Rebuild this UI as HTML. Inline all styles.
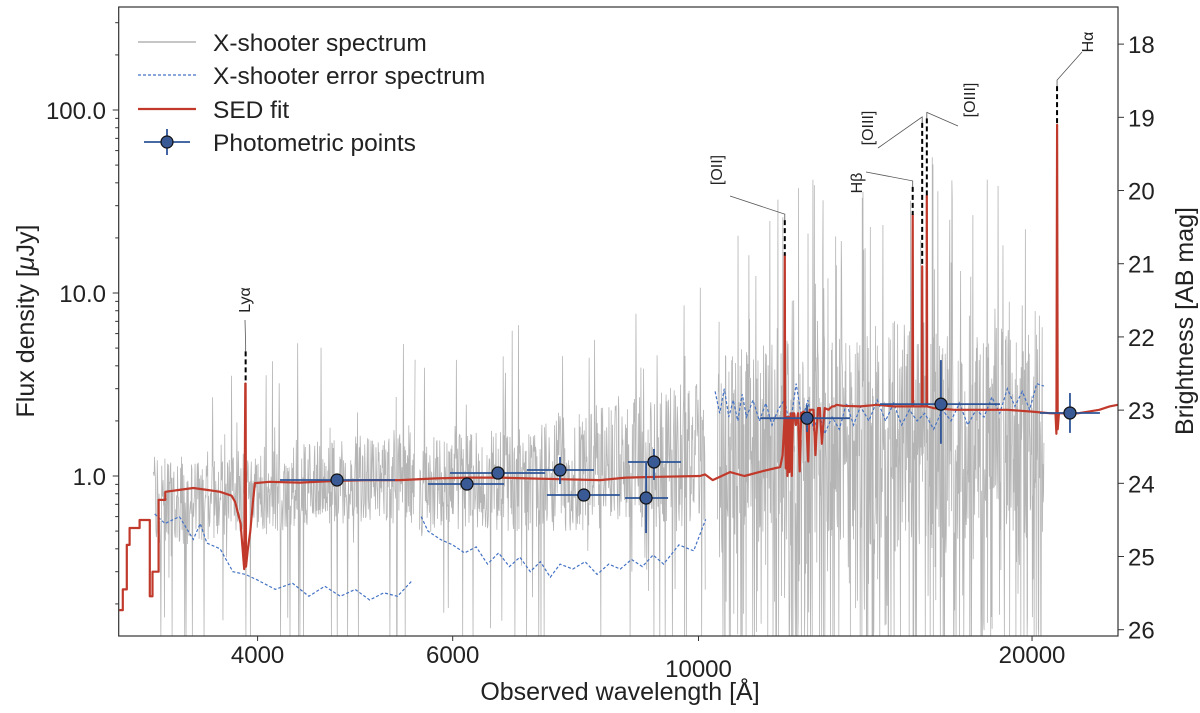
<!DOCTYPE html>
<html><head><meta charset="utf-8">
<style>
html,body{margin:0;padding:0;background:#fff;overflow:hidden;width:1200px;height:713px;}
svg{display:block;font-family:"Liberation Sans",sans-serif;}
</style></head>
<body>
<svg id="chart" width="1200" height="713" viewBox="0 0 1200 713" xmlns="http://www.w3.org/2000/svg">
<g id="plot"></g>
</svg>
<script>
// ---- data ----
const xTicks = [4000, 6000, 10000, 20000];
const xTickLabels = ["4000", "6000", "10000", "20000"];
const yTicks = [1, 10, 100];
const yTickLabels = ["1.0", "10.0", "100.0"];
const magTicks = [18, 19, 20, 21, 22, 23, 24, 25, 26];

const sedLam = [3000,3023,3023,3048,3048,3066,3066,3130,3130,3197,3197,3215,3215,3256,3256,3302,3302,3400,3500,3600,3700,3790,3818,3861,3890,3899,3902,3905,3920,3940,3960,3978,4100,4368,4700,5000,5378,5800,6200,6620,7000,7500,8150,8600,9200,10031,10135,10300,10676,11000,11400,11850,11910,11955,11964,11973,11990,12010,12030,12060,12080,12110,12140,12170,12200,12240,12300,12340,12380,12440,12500,12560,12600,12650,12700,12750,12820,12870,12920,13000,13100,13200,13260,13320,13500,14000,14500,15000,15400,15595,15607,15619,15700,15905,15918,15931,16000,16060,16072,16084,16300,17000,18000,19000,20000,20800,21000,21040,21067,21094,21150,21300,21600,22000,22500,23000,23500,23900];
const sedFlux = [0.185,0.185,0.24,0.24,0.42,0.42,0.52,0.52,0.575,0.575,0.22,0.22,0.3,0.3,0.74,0.74,0.82,0.84,0.86,0.84,0.82,0.78,0.72,0.55,0.31,3.2,3.2,0.32,0.4,0.5,0.7,0.915,0.93,0.92,0.94,0.95,0.95,0.97,0.98,0.98,0.97,0.96,0.95,0.98,0.99,1.0,1.02,0.95,1.05,1.0,1.06,1.12,1.3,2.0,16,2.0,1.1,2.1,1.0,2.1,1.05,2.2,1.0,2.2,2.2,1.9,2.2,1.06,2.2,2.25,2.2,1.2,2.3,2.3,2.3,1.3,2.35,2.35,1.5,2.35,2.3,2.4,2.4,2.45,2.42,2.4,2.45,2.4,2.4,2.4,26.7,2.4,2.4,2.4,14,2.4,2.4,2.4,34,2.4,2.35,2.3,2.3,2.3,2.25,2.2,2.2,1.7,83,1.8,2.2,2.2,2.2,2.2,2.25,2.3,2.4,2.45];

const errLam = [
 [3230,3300,3400,3500,3550,3600,3700,3800,3900,4000,4150,4300,4450,4600,4750,4900,5050,5200,5350,5520],
 [5620,5700,5850,6000,6150,6300,6450,6600,6750,6900,7050,7200,7350,7500,7700,7900,8100,8300,8500,8700,8900,9100,9300,9600,9900,10150],
 [10350,10450,10550,10650,10750,10850,10950,11050,11200,11350,11500,11650,11800,11950,12100,12250,12400,12550,12700,12850,13000,13200,13400,13600,13800,14000,14250,14500,14750,15000,15250,15500,15750,16000,16300,16600,16900,17200,17500,17800,18100,18400,18700,19000,19300,19600,19900,20200,20500]
];
const errFlux = [
 [0.62,0.55,0.6,0.45,0.55,0.43,0.4,0.3,0.29,0.27,0.24,0.26,0.22,0.25,0.22,0.24,0.21,0.23,0.22,0.27],
 [0.6,0.5,0.45,0.42,0.38,0.41,0.33,0.38,0.32,0.36,0.3,0.34,0.28,0.33,0.31,0.34,0.29,0.33,0.31,0.35,0.32,0.37,0.33,0.42,0.39,0.58],
 [2.9,2.2,3.0,2.1,2.6,2.0,2.8,2.1,2.6,2.0,2.5,1.9,2.3,2.6,1.9,3.2,2.0,2.6,1.8,2.2,1.7,2.1,1.8,2.5,1.9,2.4,2.0,2.6,2.0,2.5,1.9,2.3,2.0,2.2,1.8,2.3,2.0,2.5,1.9,2.3,2.1,2.7,2.2,3.0,2.4,2.9,2.3,3.2,3.1]
];

const specLam = [
 [3220,3400,3700,3900,4200,4600,5000,5300,5550],
 [5600,6000,6500,7000,7500,8000,8500,9000,9600,10150],
 [10400,11000,12000,13000,14000,15000,16000,17000,18000,19000,20000,20500]
];
const specLo = [
 [0.4,0.42,0.42,0.45,0.5,0.55,0.55,0.55,0.55],
 [0.45,0.5,0.5,0.5,0.5,0.5,0.55,0.5,0.5,0.55],
 [0.35,0.35,0.4,0.4,0.4,0.4,0.4,0.4,0.4,0.45,0.45,0.45]
];
const specHi = [
 [1.3,1.3,1.2,1.4,1.5,1.6,1.7,1.8,2.0],
 [1.6,1.7,1.8,2.0,2.3,2.5,2.8,3.0,3.2,3.5],
 [4.5,5,5.5,6,6.5,7,7.5,7,6.5,6.5,6,6]
];

const photLam = [4718,6181,6592,7499,7880,8968,9116,12530,16550,21640];
const photFlux = [0.951,0.904,1.038,1.078,0.787,0.758,1.193,2.07,2.47,2.21];
const photLamLo = [4190,5699,5966,7001,7298,8584,8636,11370,14580,20330];
const photLamHi = [5322,6676,7270,8048,8492,9387,9643,13700,18710,23030];
const photFluxLo = [0.92,0.87,1.0,0.904,0.74,0.488,0.951,1.74,1.5,1.72];
const photFluxHi = [0.98,0.94,1.08,1.27,0.84,1.178,1.405,2.44,4.3,2.84];

const lineNames = ["Ly\u03b1","[OII]","H\u03b2","[OIII]","[OIII]","H\u03b1"];
const lineLam = [3902,11964,15607,15918,16072,21067];
const lineTop = [4.8,25,38,85,90,135];
const linePeak = [3.2,16,26.7,14,34,83];

// ---- axes ----
const L=118.7,R=1118,T=7,B=636;
function X(l){return 698.5+1108*Math.log10(l/10000);}
function Y(f){return 476-183*Math.log10(f);}
function Ymag(m){return Y(Math.pow(10,(23.9-m)/2.5));}
const NS="http://www.w3.org/2000/svg";
const svg=document.getElementById('chart');
function mk(tag,attrs,parent){const e=document.createElementNS(NS,tag);for(const k in attrs)e.setAttribute(k,attrs[k]);(parent||svg).appendChild(e);return e;}
const clipDef=mk('defs',{});
const cp=mk('clipPath',{id:'clip'},clipDef);mk('rect',{x:L,y:T,width:R-L,height:B-T},cp);
const g=mk('g',{'clip-path':'url(#clip)'});



function hash(i){const s=Math.sin(i*127.1+311.7)*43758.5453;return s-Math.floor(s);}
function interp(xs,ys,x){for(let i=0;i<xs.length-1;i++){if(x<=xs[i+1]){const t=(x-xs[i])/(xs[i+1]-xs[i]);return Math.exp(Math.log(ys[i])*(1-t)+Math.log(ys[i+1])*t);}}return ys[ys.length-1];}

// gray spectrum (texture inside data envelope)
let hc=0;
for(let a=0;a<specLam.length;a++){
  const x0=X(specLam[a][0]),x1=X(specLam[a][specLam[a].length-1]);
  let pts=[];
  const step=a==2?0.35:0.45;
  const pDown=a==2?0.16:0.05, pUp=a==2?0.06:0.03;
  for(let x=x0;x<=x1;x+=step){
    const lam=10000*Math.pow(10,(x-698.5)/1108);
    const lo=Math.log10(interp(specLam[a],specLo[a],lam)),hi=Math.log10(interp(specLam[a],specHi[a],lam));
    const h=hash(hc++);const h2=hash(hc++);
    let v;
    const mid=(lo+hi)/2,half=(hi-lo)/2;
    if(h2>1-pUp) v=hi+(a==2?0.9:0.6)*hash(hc++);
    else if(h2<pDown) v=lo-1.2*hash(hc++);
    else v=mid+half*(2*h-1);
    let yy=476-183*v;
    if(yy>B)yy=B; if(yy<T)yy=T;
    pts.push(x.toFixed(2)+','+yy.toFixed(1));
  }
  const p=mk('polyline',{points:pts.join(' '),fill:'none',stroke:'#b5b5b5','stroke-width':0.8},g);
  
  
}
// error spectrum
for(let a=0;a<errLam.length;a++){
  const pts=errLam[a].map((l,i)=>X(l).toFixed(1)+','+Y(errFlux[a][i]).toFixed(1));
  const p=mk('polyline',{points:pts.join(' '),fill:'none',stroke:'#4472c4','stroke-width':1.2,'stroke-dasharray':'3,2'},g);
  
  
}
// SED
{
  const pts=sedLam.map((l,i)=>X(l).toFixed(1)+','+Y(sedFlux[i]).toFixed(1));
  const p=mk('polyline',{points:pts.join(' '),fill:'none',stroke:'#c0392b','stroke-width':2.2,'stroke-linejoin':'round'},g);
  
  
}
// photometric points
for(let i=0;i<photLam.length;i++){
  const x=X(photLam[i]),y=Y(photFlux[i]);
  const e1=mk('line',{x1:X(photLamLo[i]),x2:X(photLamHi[i]),y1:y,y2:y,stroke:'#2e5597','stroke-width':1.8},g);
  
  
  const e2=mk('line',{x1:x,x2:x,y1:Y(photFluxLo[i]),y2:Y(photFluxHi[i]),stroke:'#2e5597','stroke-width':1.8},g);
  
  
  const c=mk('circle',{cx:x,cy:y,r:6,fill:'#3a5a96',stroke:'#111','stroke-width':1.2},g);
  
  
}
// emission line markers
const labelPos=[[245,300],[717,170],[857,183],[868,128],[970,100],[1088,42]];
const elbow=[[245,320],[730,196],[866,172],[878,148],[958,126],[1082,52]];
for(let i=0;i<lineLam.length;i++){
  const x=X(lineLam[i]),yt=Y(lineTop[i]),yp=Y(linePeak[i]);
  const d=mk('line',{x1:x,x2:x,y1:yt,y2:yp,stroke:'#000','stroke-width':2,'stroke-dasharray':'5,3'});
  
  
  const [ex,ey]=elbow[i];
  const lead=mk('polyline',{points:`${x},${yt} ${x},${yt-6} ${ex},${ey}`,fill:'none',stroke:'#555','stroke-width':0.8});
  
  
  const [lx,ly]=labelPos[i];
  const t=mk('text',{x:0,y:0,transform:`translate(${lx+5},${ly}) rotate(-90)`,'font-size':16,fill:'#222','text-anchor':'middle'});
  t.textContent=lineNames[i];
  
  
}
// frame
const fr=mk('rect',{x:L,y:T,width:R-L,height:B-T,fill:'none',stroke:'#333','stroke-width':1.2});


// x ticks
xTicks.forEach((v,i)=>{
  const x=X(v);
  const tk=mk('line',{x1:x,x2:x,y1:B,y2:B+5,stroke:'#333','stroke-width':1});
  
  
  const t=mk('text',{x:x,y:(v==10000?677:663),'font-size':24,fill:'#222','text-anchor':'middle'});
  t.textContent=xTickLabels[i];
  
  
});
// y ticks (major+minor)
for(let d=-1;d<=2;d++){for(let m=1;m<10;m++){const f=m*Math.pow(10,d);const y=Y(f);if(y<T||y>B)continue;
  const tk=mk('line',{x1:L-(m==1?6:3.5),x2:L,y1:y,y2:y,stroke:'#333','stroke-width':1});
  
  }}
yTicks.forEach((v,i)=>{
  const t=mk('text',{x:106,y:Y(v)+9,'font-size':24,fill:'#222','text-anchor':'end'});
  t.textContent=yTickLabels[i];
  
  
});
// right mag axis
magTicks.forEach(m=>{
  const y=Ymag(m);
  const tk=mk('line',{x1:R,x2:R+6,y1:y,y2:y,stroke:'#333','stroke-width':1});
  
  
  const t=mk('text',{x:R+10,y:y+9,'font-size':24,fill:'#222'});
  t.textContent=String(m);
  
  
});
// axis titles
let t=mk('text',{x:620,y:700,'font-size':25,fill:'#222','text-anchor':'middle'});
t.textContent='Observed wavelength [\u00c5]';


t=mk('text',{x:0,y:0,transform:'translate(34,321) rotate(-90)','font-size':25,fill:'#222','text-anchor':'middle'});
t.innerHTML='Flux density [<tspan font-style="italic">\u03bc</tspan>Jy]';


t=mk('text',{x:0,y:0,transform:'translate(1193,321) rotate(-90)','font-size':25,fill:'#222','text-anchor':'middle'});
t.textContent='Brightness [AB mag]';


// legend
const lg=mk('g',{});


const legItems=['X-shooter spectrum','X-shooter error spectrum','SED fit','Photometric points'];
const legY=[42,75,109,142];
legItems.forEach((s,i)=>{
  const y=legY[i];
  if(i==0){const l=mk('line',{x1:138,x2:196,y1:y,y2:y,stroke:'#b3b3b3','stroke-width':1.5},lg);}
  if(i==1){const l=mk('line',{x1:138,x2:196,y1:y,y2:y,stroke:'#4472c4','stroke-width':1.2,'stroke-dasharray':'3,2'},lg);}
  if(i==2){const l=mk('line',{x1:138,x2:196,y1:y,y2:y,stroke:'#c0392b','stroke-width':2.2},lg);}
  if(i==3){mk('line',{x1:144,x2:190,y1:y,y2:y,stroke:'#2e5597','stroke-width':1.8},lg);mk('line',{x1:167,x2:167,y1:y-13,y2:y+13,stroke:'#2e5597','stroke-width':1.8},lg);const c=mk('circle',{cx:167,cy:y,r:6,fill:'#3a5a96',stroke:'#111','stroke-width':1.2},lg);}
  const tx=mk('text',{x:213,y:y+9,'font-size':24.5,fill:'#222'},lg);
  tx.textContent=s;
  
  
});
</script>
</body></html>
